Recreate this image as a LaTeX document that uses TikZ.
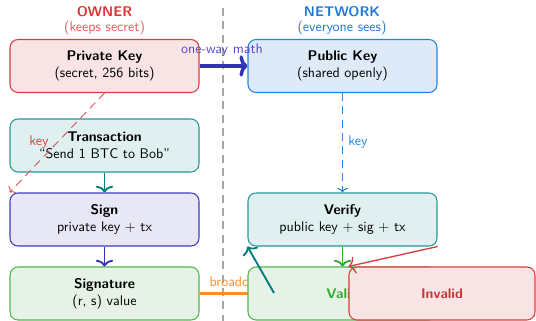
\documentclass[tikz,border=0pt]{standalone}
\usetikzlibrary{arrows.meta}
\renewcommand{\familydefault}{\sfdefault}
\definecolor{redB}{RGB}{220,60,60}
\definecolor{redF}{RGB}{249,228,229}
\definecolor{tealB}{RGB}{40,150,150}
\definecolor{tealF}{RGB}{224,240,240}
\definecolor{indB}{RGB}{60,60,190}
\definecolor{indF}{RGB}{231,231,246}
\definecolor{grnB}{RGB}{80,180,80}
\definecolor{grnF}{RGB}{229,242,229}
\definecolor{bluB}{RGB}{40,130,220}
\definecolor{bluF}{RGB}{222,234,248}
\definecolor{teal2}{RGB}{0,125,125}
\definecolor{indA}{RGB}{50,50,180}
\definecolor{grnA}{RGB}{50,170,50}
\definecolor{orA}{RGB}{255,140,40}
\definecolor{ttlRed}{RGB}{220,50,50}
\definecolor{subRed}{RGB}{232,90,90}
\definecolor{ttlBlue}{RGB}{30,120,215}
\definecolor{mathC}{RGB}{85,75,200}
\begin{document}
\begin{tikzpicture}[x=0.75pt,y=-0.75pt,
  font=\fontsize{10.5}{12.6}\selectfont,
  box/.style={rounded corners=6pt, line width=0.8pt, minimum width=141.75pt,
    minimum height=39.75pt, align=center, inner sep=2pt},
  lbl/.style={inner sep=1pt},
  big/.style={-{To[length=5pt,width=13pt]}},
  small/.style={-{To[length=3.5pt,width=8pt]}}]
\useasboundingbox (0,0) rectangle (536,321);
% divider
\draw[gray!70, line width=1.1pt, dash pattern=on 6pt off 4pt] (223,8) -- (223,321);
% titles
\node[lbl, text=ttlRed, font=\fontsize{10.5}{12.6}\selectfont\bfseries] (ownerT) at (104.5,12) {OWNER};
\node[lbl, text=subRed] (ownerS) at (104.5,28) {(keeps secret)};
\node[lbl, text=ttlBlue, font=\fontsize{10.5}{12.6}\selectfont\bfseries] (netT) at (342,12) {NETWORK};
\node[lbl, text=ttlBlue] (netS) at (342,28) {(everyone sees)};
% nodes
\node[box, draw=redB, fill=redF] (priv) at (104.5,66) {\textbf{Private Key}\\(secret, 256 bits)};
\node[box, draw=tealB, fill=tealF] (tx) at (104.5,145.5) {\textbf{Transaction}\\``Send 1 BTC to Bob''};
\node[box, draw=indB, fill=indF] (sign) at (104.5,219.5) {\textbf{Sign}\\private key + tx};
\node[box, draw=grnB, fill=grnF] (sig) at (104.5,293.5) {\textbf{Signature}\\(r, s) value};
\node[box, draw=bluB, fill=bluF] (pub) at (342.5,66) {\textbf{Public Key}\\(shared openly)};
\node[box, draw=tealB, fill=tealF] (ver) at (342.5,219.5) {\textbf{Verify}\\public key + sig + tx};
% edges
\draw[indA, line width=2.6pt, -{To[length=6pt,width=16pt]}] (priv.east) -- (pub.west);
\node[lbl, text=mathC] (mathL) at (222,50) {one-way math};
\draw[redB!85, line width=0.7pt, dash pattern=on 6pt off 4pt, small] (priv.south) -- (sign.north west);
\node[lbl, text=redB] (keyL) at (39,142) {key};
\draw[teal2, line width=1.4pt, big] (tx.south) -- (sign.north);
\draw[indA, line width=1.4pt, big] (sign.south) -- (sig.north);
\draw[bluB, line width=0.8pt, dash pattern=on 6pt off 4pt, small] (pub.south) -- (ver.north);
\node[lbl, text=bluB] (keyR) at (358,142) {key};
\draw[orA, line width=2.2pt] (sig.east) -- (248,293.5);
\node[lbl, text=orA, anchor=west] (bcL) at (208,282) {broadcast};
\node[box, draw=grnB, fill=grnF, text=grnA, font=\fontsize{10.5}{12.6}\selectfont\bfseries] (valid) at (342.5,293.5) {Valid};
\coordinate (tstart) at (274,293);
\draw[teal2, line width=1.4pt, big] (tstart) -- (ver.south west);
\node[box, draw=redB, fill=redF, text=redB!90!black, font=\fontsize{10.5}{12.6}\selectfont\bfseries, minimum width=139.5pt] (inv) at (442,293.5) {Invalid};
\draw[grnA, line width=1.4pt, big] (ver.south) -- (valid.north);
\draw[redB, line width=1pt, big] (ver.south east) -- (inv.north west);
\end{tikzpicture}
\end{document}
